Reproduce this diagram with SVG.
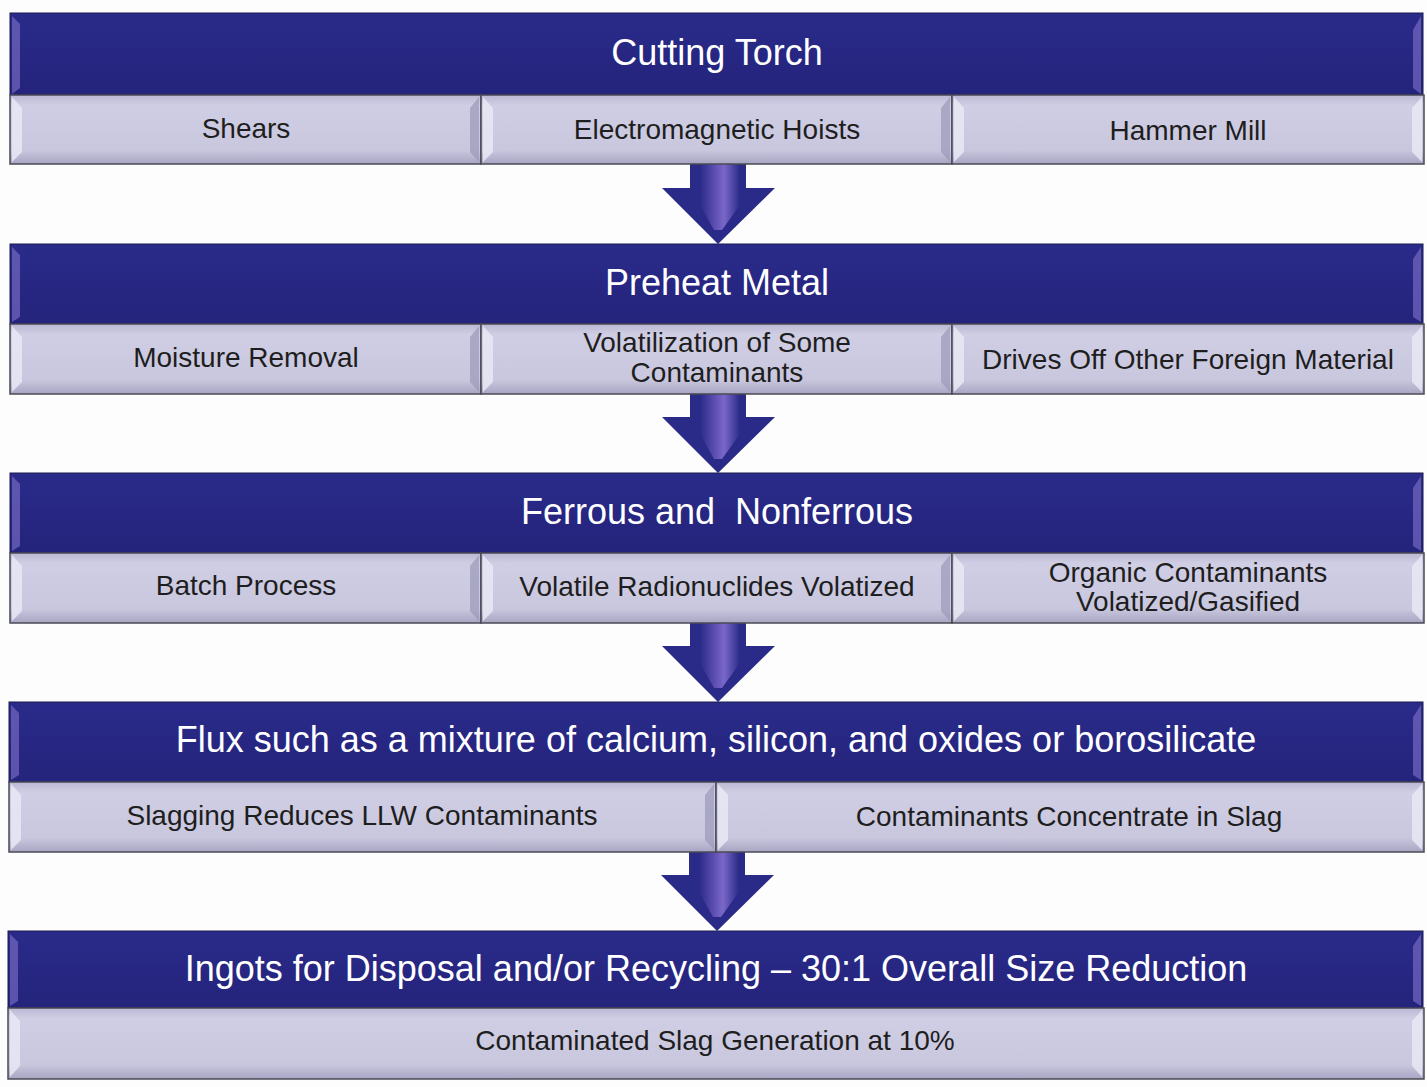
<svg xmlns="http://www.w3.org/2000/svg" width="1427" height="1087" viewBox="0 0 1427 1087">
<style>
.bt{font-family:"Liberation Sans",Arial,sans-serif;font-size:36px;fill:#ffffff;text-anchor:middle}
.st{font-family:"Liberation Sans",Arial,sans-serif;font-size:28px;fill:#1e1e1e;text-anchor:middle}
.ban{fill:url(#gBan);stroke:#1a1a50;stroke-width:1}
.sub{fill:url(#gSub);stroke:#4a4a55;stroke-width:1.5}
.bl{fill:#e8e8f4;opacity:0.85}
.bd{fill:#9a98b8;opacity:0.7}
.bvl{fill:#6a60b8;opacity:0.8}
.arr{fill:#2a2a88}
.arrh{fill:url(#gShaft)}
</style>
<defs>
<linearGradient id="gBan" x1="0" y1="0" x2="0" y2="1">
<stop offset="0" stop-color="#2a2a8a"/>
<stop offset="1" stop-color="#24247c"/>
</linearGradient>
<linearGradient id="gSub" x1="0" y1="0" x2="0" y2="1">
<stop offset="0" stop-color="#bab8d3"/>
<stop offset="0.15" stop-color="#d0cee4"/>
<stop offset="0.8" stop-color="#c9c7de"/>
<stop offset="1" stop-color="#a7a5c2"/>
</linearGradient>
<linearGradient id="gShaft" x1="0" y1="0" x2="1" y2="0">
<stop offset="0" stop-color="#2a2a88"/>
<stop offset="0.35" stop-color="#5a4cb0"/>
<stop offset="0.6" stop-color="#7a68c8"/>
<stop offset="1" stop-color="#2a2a88"/>
</linearGradient>
</defs>

<rect x="0" y="0" width="1427" height="1087" fill="#fdfdfd"/>

<g id="connectors">
<g id="arrow1">
<polygon class="arr" points="690,164 746,164 746,188 775,188 718,244 662,188 690,188"/>
<polygon class="arrh" points="700,164 740,164 740,205 722,230 714,230 700,205"/>
</g>
<g id="arrow2" transform="translate(0,229)">
<polygon class="arr" points="690,164 746,164 746,188 775,188 718,244 662,188 690,188"/>
<polygon class="arrh" points="700,164 740,164 740,205 722,230 714,230 700,205"/>
</g>
<g id="arrow3" transform="translate(0,458)">
<polygon class="arr" points="690,164 746,164 746,188 775,188 718,244 662,188 690,188"/>
<polygon class="arrh" points="700,164 740,164 740,205 722,230 714,230 700,205"/>
</g>
<g id="arrow4" transform="translate(-1,687)">
<polygon class="arr" points="690,164 746,164 746,188 775,188 718,244 662,188 690,188"/>
<polygon class="arrh" points="700,164 740,164 740,205 722,230 714,230 700,205"/>
</g>
</g>

<!-- Stage 1 -->
<g id="banner1">
<rect class="ban" x="10" y="13" width="1413" height="82"/>
<polygon class="bvl" points="12,16 20,24 20,88 12,94"/>
<polygon class="bvl" points="1421,16 1413,30 1413,88 1421,94"/>
<text class="bt" x="717" y="65">Cutting Torch</text>
</g>
<g id="s1a">
<rect class="sub" x="10" y="95" width="471" height="69"/>
<polygon class="bl" points="12,97 22,108 22,152 12,162"/>
<polygon class="bd" points="479,97 470,108 470,152 479,162"/>
<text class="st" x="246" y="138">Shears</text>
</g>
<g id="s1b">
<rect class="sub" x="481" y="95" width="471" height="69"/>
<polygon class="bl" points="483,97 493,108 493,152 483,162"/>
<polygon class="bd" points="950,97 941,108 941,152 950,162"/>
<text class="st" x="717" y="139">Electromagnetic Hoists</text>
</g>
<g id="s1c">
<rect class="sub" x="952" y="95" width="472" height="69"/>
<polygon class="bl" points="954,97 964,108 964,152 954,162"/>
<polygon class="bl" points="1422,97 1412,108 1412,152 1422,162"/>
<text class="st" x="1188" y="140">Hammer Mill</text>
</g>

<!-- Stage 2 -->
<g id="banner2">
<rect class="ban" x="10" y="244" width="1413" height="80"/>
<polygon class="bvl" points="12,247 20,255 20,317 12,322"/>
<polygon class="bvl" points="1421,247 1413,259 1413,317 1421,322"/>
<text class="bt" x="717" y="295">Preheat Metal</text>
</g>
<g id="s2a">
<rect class="sub" x="10" y="324" width="471" height="70"/>
<polygon class="bl" points="12,326 22,337 22,382 12,392"/>
<polygon class="bd" points="479,326 470,337 470,382 479,392"/>
<text class="st" x="246" y="367">Moisture Removal</text>
</g>
<g id="s2b">
<rect class="sub" x="481" y="324" width="471" height="70"/>
<polygon class="bl" points="483,326 493,337 493,382 483,392"/>
<polygon class="bd" points="950,326 941,337 941,382 950,392"/>
<text class="st" x="717" y="352">Volatilization of Some</text>
<text class="st" x="717" y="382">Contaminants</text>
</g>
<g id="s2c">
<rect class="sub" x="952" y="324" width="472" height="70"/>
<polygon class="bl" points="954,326 964,337 964,382 954,392"/>
<polygon class="bl" points="1422,326 1412,337 1412,382 1422,392"/>
<text class="st" x="1188" y="369">Drives Off Other Foreign Material</text>
</g>

<!-- Stage 3 -->
<g id="banner3">
<rect class="ban" x="10" y="473" width="1413" height="80"/>
<polygon class="bvl" points="12,476 20,484 20,546 12,551"/>
<polygon class="bvl" points="1421,476 1413,488 1413,546 1421,551"/>
<text class="bt" x="717" y="524" xml:space="preserve">Ferrous and  Nonferrous</text>
</g>
<g id="s3a">
<rect class="sub" x="10" y="553" width="471" height="70"/>
<polygon class="bl" points="12,555 22,566 22,611 12,621"/>
<polygon class="bd" points="479,555 470,566 470,611 479,621"/>
<text class="st" x="246" y="595">Batch Process</text>
</g>
<g id="s3b">
<rect class="sub" x="481" y="553" width="471" height="70"/>
<polygon class="bl" points="483,555 493,566 493,611 483,621"/>
<polygon class="bd" points="950,555 941,566 941,611 950,621"/>
<text class="st" x="717" y="596">Volatile Radionuclides Volatized</text>
</g>
<g id="s3c">
<rect class="sub" x="952" y="553" width="472" height="70"/>
<polygon class="bl" points="954,555 964,566 964,611 954,621"/>
<polygon class="bl" points="1422,555 1412,566 1412,611 1422,621"/>
<text class="st" x="1188" y="582">Organic Contaminants</text>
<text class="st" x="1188" y="611">Volatized/Gasified</text>
</g>

<!-- Stage 4 -->
<g id="banner4">
<rect class="ban" x="9" y="702" width="1414" height="80"/>
<polygon class="bvl" points="11,705 19,713 19,775 11,780"/>
<polygon class="bvl" points="1421,705 1413,717 1413,775 1421,780"/>
<text class="bt" x="716" y="752">Flux such as a mixture of calcium, silicon, and oxides or borosilicate</text>
</g>
<g id="s4a">
<rect class="sub" x="9" y="782" width="707" height="70"/>
<polygon class="bl" points="11,784 21,795 21,840 11,850"/>
<polygon class="bd" points="714,784 705,795 705,840 714,850"/>
<text class="st" x="362" y="825">Slagging Reduces LLW Contaminants</text>
</g>
<g id="s4b">
<rect class="sub" x="716" y="782" width="708" height="70"/>
<polygon class="bl" points="718,784 728,795 728,840 718,850"/>
<polygon class="bl" points="1422,784 1412,795 1412,840 1422,850"/>
<text class="st" x="1069" y="826">Contaminants Concentrate in Slag</text>
</g>

<!-- Stage 5 -->
<g id="banner5">
<rect class="ban" x="8" y="931" width="1415" height="77"/>
<polygon class="bvl" points="10,934 18,942 18,1001 10,1006"/>
<polygon class="bvl" points="1421,934 1413,946 1413,1001 1421,1006"/>
<text class="bt" x="716" y="981">Ingots for Disposal and/or Recycling – 30:1 Overall Size Reduction</text>
</g>
<g id="s5a">
<rect class="sub" x="8" y="1008" width="1416" height="71"/>
<polygon class="bl" points="10,1010 20,1021 20,1066 10,1077"/>
<polygon class="bl" points="1422,1010 1412,1021 1412,1066 1422,1077"/>
<text class="st" x="715" y="1050">Contaminated Slag Generation at 10%</text>
</g>
</svg>
